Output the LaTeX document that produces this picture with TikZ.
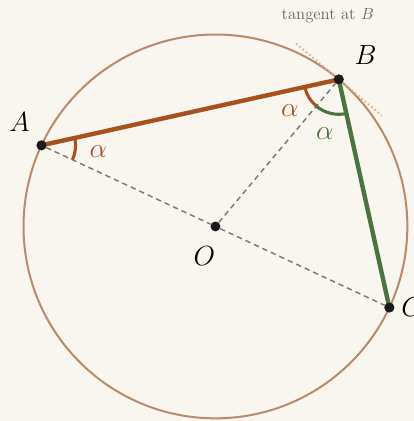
\documentclass[tikz,border=0pt]{standalone}
\usepackage{tikz}
\usetikzlibrary{positioning,calc}
\usepackage{xcolor}
\definecolor{paper}{HTML}{F9F5EF}
\definecolor{rim}{HTML}{B98B6A}
\definecolor{rust}{HTML}{A9501F}
\definecolor{leaf}{HTML}{4A7340}
\definecolor{dash}{HTML}{7A7A7A}
\definecolor{tang}{HTML}{D9B48A}
\definecolor{note}{HTML}{666666}
\definecolor{ink}{HTML}{1A1A1A}

\begin{document}
\begin{tikzpicture}[
      pt/.style={circle,fill=ink,inner sep=0pt,minimum size=0.26cm},
      lab/.style={font=\fontsize{20}{22}\selectfont},
      ang/.style={font=\fontsize{20}{22}\selectfont},
      rad/.style={draw=dash,dash pattern=on 4pt off 3pt,line width=1.1pt},
      chord/.style={line width=3.3pt},
      arcline/.style={line width=2.3pt}]

    \useasboundingbox[fill=paper] (-5.68,-5.13) rectangle (5.23,5.97);

    \draw[rim,line width=1.5pt] (0,0) circle (5.06);

    % points on the circle
    \node[pt] (O) at (0,0) {};
    \node[pt] (A) at (155:5.06) {};
    \node[pt] (B) at (50:5.06) {};
    \node[pt] (C) at (335:5.06) {};

    % tangent at B
    \coordinate (t1) at ($(B)+(140:1.47)$);
    \coordinate (t2) at ($(B)+(320:1.47)$);
    \draw[tang,dash pattern=on 1.2pt off 2pt,line width=1.5pt] (t1) -- (t2);
    \node[font=\fontsize{12.5}{14}\selectfont,text=note] (tl) at (2.96,5.55) {tangent at $B$};

    \draw[rad] (A) -- (O) -- (C);
    \draw[rad] (O) -- (B);

    \draw[rust,arcline] ($(A)+(12.6:0.9)$) arc (12.6:-25:0.9);
    \draw[rust,arcline] ($(B)+(192.6:0.92)$) arc (192.6:230:0.92);
    \draw[leaf,arcline] ($(B)+(230:0.92)$) arc (230:282.4:0.92);

    \draw[rust,chord] (A.center) -- (B.center);
    \draw[leaf,chord] (B.center) -- (C.center);

    \node[pt] at (A) {};
    \node[pt] at (B) {};
    \node[pt] at (C) {};

    \node[lab] (la) at ($(A)+(-0.58,0.61)$) {$A$};
    \node[lab] (lb) at ($(B)+(0.71,0.63)$) {$B$};
    \node[lab] (lo) at ($(O)+(-0.29,-0.79)$) {$O$};
    \node[lab] (lc) at ($(C)+(0.6,0)$) {$C$};

    \node[ang,text=rust] (a1) at ($(A)+(1.5,-0.16)$) {$\alpha$};
    \node[ang,text=rust] (a2) at ($(B)+(-1.29,-0.82)$) {$\alpha$};
    \node[ang,text=leaf] (a3) at ($(B)+(-0.37,-1.42)$) {$\alpha$};
  \end{tikzpicture}
\end{document}
